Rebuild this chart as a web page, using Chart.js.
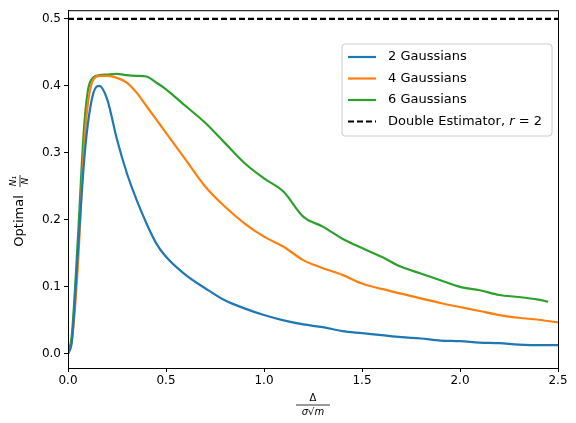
<!DOCTYPE html>
<html><head><meta charset="utf-8">
<script src="https://cdn.jsdelivr.net/npm/chart.js@4/dist/chart.umd.min.js"></script>
<style>html,body{margin:0;background:#fff}#wrap{width:576px;height:423px}</style>
</head><body><div id="wrap"><canvas id="c"></canvas></div>
<script>
const xs = [0,0.02,0.05,0.08,0.1,0.13,0.16,0.2,0.25,0.3,0.35,0.4,0.45,0.5,0.6,0.7,0.8,0.9,1.0,1.1,1.2,1.3,1.4,1.5,1.6,1.7,1.8,1.9,2.0,2.1,2.2,2.3,2.4,2.5];
const g2 = [0,0.02,0.15,0.28,0.34,0.39,0.40,0.38,0.32,0.27,0.23,0.195,0.165,0.145,0.118,0.098,0.08,0.068,0.058,0.05,0.044,0.04,0.034,0.031,0.028,0.025,0.023,0.02,0.019,0.017,0.016,0.014,0.013,0.013];
const g4 = [0,0.02,0.13,0.30,0.37,0.41,0.415,0.415,0.412,0.405,0.39,0.37,0.35,0.33,0.29,0.25,0.22,0.195,0.175,0.16,0.14,0.128,0.118,0.105,0.097,0.09,0.083,0.076,0.07,0.064,0.058,0.054,0.051,0.047];
const g6 = [0,0.03,0.17,0.33,0.39,0.413,0.416,0.417,0.418,0.416,0.415,0.414,0.405,0.395,0.37,0.345,0.315,0.285,0.262,0.242,0.205,0.19,0.172,0.158,0.145,0.13,0.12,0.11,0.10,0.095,0.088,0.085,0.081,0.078];
const xTicks = [0,0.5,1,1.5,2,2.5];
const yTicks = [0,0.1,0.2,0.3,0.4,0.5];
const labels = ["2 Gaussians","4 Gaussians","6 Gaussians","Double Estimator, r = 2"];
const colors = ["#1f77b4","#ff7f0e","#2ca02c","#000000"];
const pts = a => a.map((v,i)=>({x:xs[i],y:v})).filter(p=>p.y!=null);
const g6pts = pts(g6).slice(0,-1).concat([{x:2.45,y:0.078}]);

const deco = {
  id:'deco',
  afterDraw(ch){
    const c=ch.ctx,a=ch.chartArea;
    c.save();
    c.strokeStyle='#000';c.lineWidth=1;
    c.strokeRect(a.left+0.5,a.top+0.5,a.right-a.left,a.bottom-a.top);
    // legend
    const lx=342,ly=44,lw=210,lh=92;
    c.fillStyle='rgba(255,255,255,0.8)';c.strokeStyle='#ccc';
    c.beginPath();c.roundRect(lx,ly,lw,lh,3);c.fill();c.stroke();
    c.font='13px "DejaVu Sans"';c.textBaseline='middle';
    labels.forEach((t,i)=>{
      const y=ly+13+i*21.5;
      c.strokeStyle=colors[i];c.lineWidth=2.2;
      c.setLineDash(i==3?[6,3]:[]);
      c.beginPath();c.moveTo(lx+6,y);c.lineTo(lx+34,y);c.stroke();
      c.setLineDash([]);c.fillStyle='#000';
      if(i==3){
        c.fillText('Double Estimator, ',lx+46,y);
        const w=c.measureText('Double Estimator, ').width;
        c.font='italic 13px "DejaVu Sans"';c.fillText('r',lx+46+w,y);
        const w2=c.measureText('r').width;
        c.font='13px "DejaVu Sans"';c.fillText(' = 2',lx+46+w+w2,y);
      } else c.fillText(t,lx+46,y);
    });
    // x label fraction
    c.fillStyle='#000';c.textAlign='center';
    const cx=(a.left+a.right)/2;
    c.font='10px "DejaVu Sans"';c.fillText('Δ',cx,398);
    c.lineWidth=0.8;c.beginPath();c.moveTo(cx-17,405);c.lineTo(cx+17,405);c.stroke();
    c.font='italic 10px "DejaVu Sans"';c.fillText('σ√m',cx,412);
    // y label
    c.translate(20,(a.top+a.bottom)/2);c.rotate(-Math.PI/2);
    c.font='13px "DejaVu Sans"';c.textAlign='right';c.fillText('Optimal ',-2,0);
    c.font='italic 9px "DejaVu Sans"';c.textAlign='center';
    c.fillText('N₁',8,-6);c.fillText('N',8,6);
    c.beginPath();c.moveTo(2,0);c.lineTo(14,0);c.stroke();
    c.restore();
  }
};
const ds=(d,i)=>({label:labels[i],data:d,borderColor:colors[i],borderWidth:2.2,pointRadius:0,tension:0.3,fill:false,cubicInterpolationMode:'monotone'});
new Chart(document.getElementById('c'),{
  type:'line',
  data:{datasets:[ds(pts(g2),0),ds(pts(g4),1),ds(g6pts,2),
    {label:labels[3],data:[{x:0,y:0.5},{x:2.5,y:0.5}],borderColor:'#000',borderWidth:2.2,borderDash:[6,3],pointRadius:0}]},
  options:{
    responsive:true,maintainAspectRatio:false,animation:false,
    layout:{padding:{top:10,right:18,left:0,bottom:0}},
    plugins:{legend:{display:false},tooltip:{enabled:false}},
    scales:{
      x:{type:'linear',min:0,max:2.5,
        afterBuildTicks:s=>{s.ticks=xTicks.map(v=>({value:v}));},
        afterFit:s=>{s.height=55;},
        ticks:{color:'#000',font:{family:'DejaVu Sans',size:12},callback:v=>v.toFixed(1),maxRotation:0,padding:2},
        grid:{drawOnChartArea:false,tickLength:4,color:'#000'},border:{color:'#000'}},
      y:{min:-0.021,max:0.513,
        afterBuildTicks:s=>{s.ticks=yTicks.map(v=>({value:v}));},
        afterFit:s=>{s.width=68;},
        ticks:{color:'#000',font:{family:'DejaVu Sans',size:12},callback:v=>v.toFixed(1),padding:3},
        grid:{drawOnChartArea:false,tickLength:4,color:'#000'},border:{color:'#000'}}
    }
  },
  plugins:[deco]
});
</script></body></html>
